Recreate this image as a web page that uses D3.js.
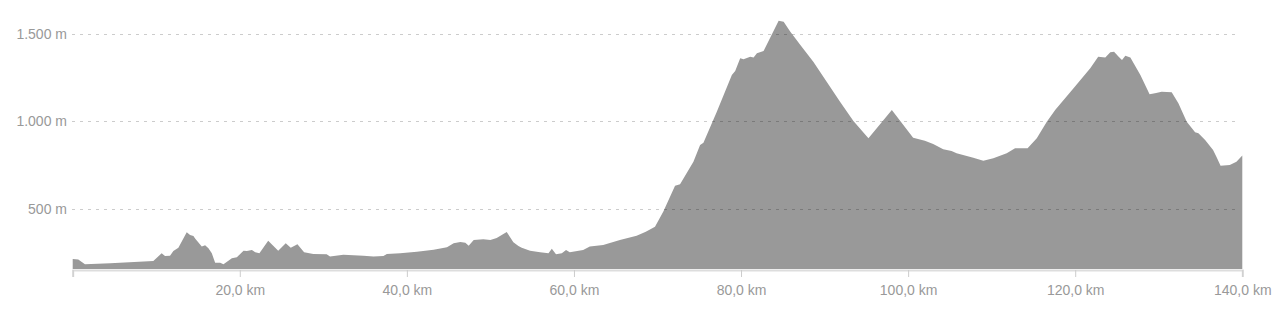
<!DOCTYPE html>
<html>
<head>
<meta charset="utf-8">
<script src="https://cdn.jsdelivr.net/npm/d3@7"></script>
<style>
  html, body { margin: 0; padding: 0; background: #fff; }
  svg { display: block; font-family: "Liberation Sans", Arial, sans-serif; }
</style>
</head>
<body>
<div id="chart"></div>
<script>
// elevation profile
const distanceKm = [
  0, 0.67, 1.47, 4.5, 9.65, 10.65, 11.05, 11.65, 12.05, 12.65, 13.65, 14.05, 14.45, 14.65,
  15.45, 15.85, 16.25, 16.65, 17.05, 17.65, 18.05, 19.05, 19.65, 20.45, 20.85, 21.45, 21.85,
  22.35, 23.4, 24.6, 25.5, 26.1, 26.9, 27.7, 28.8, 30.4, 30.8, 32.4, 34.8, 36.0, 37.2, 37.6,
  39.2, 41.2, 43.2, 44.8, 45.6, 46.4, 47.0, 47.4, 48.0, 49.15, 50.0, 50.75, 51.95, 52.75,
  53.35, 53.75, 54.75, 55.95, 56.95, 57.35, 57.85, 58.55, 59.05, 59.5, 61.1, 61.9, 63.5,
  65.5, 67.5, 68.6, 69.7, 70.7, 72.1, 72.7, 74.3, 75.1, 75.5, 77.1, 78.9, 79.3, 79.9, 80.3,
  81.1, 81.5, 81.9, 82.7, 84.5, 85.1, 85.9, 87.1, 88.65, 90.25, 91.85, 93.45, 95.25, 98.05,
  100.6, 102.0, 103.0, 104.2, 105.2, 105.8, 107.8, 109.0, 110.2, 111.8, 112.8, 113.4, 114.3,
  115.4, 116.6, 117.6, 119.8, 121.8, 122.75, 123.6, 124.2, 124.65, 125.2, 125.6, 126.0,
  126.6, 127.8, 128.9, 129.55, 130.35, 131.55, 132.35, 133.35, 134.35, 134.75, 135.55,
  136.5, 136.9, 137.4, 138.5, 139.3, 140
];
const elevationM = [
  214, 212, 184, 190, 203, 247, 231, 233, 260, 279, 367, 351, 346, 332,
  285, 293, 275, 247, 193, 193, 184, 218, 224, 262, 260, 266, 253,
  247, 319, 262, 304, 279, 298, 253, 243, 241, 228, 239, 233, 228, 231, 243,
  247, 256, 267, 281, 304, 311, 307, 290, 323, 327, 323, 334, 369, 310,
  289, 279, 262, 253, 247, 273, 241, 247, 266, 253, 266, 285, 294,
  323, 347, 370, 399, 485, 633, 641, 770, 866, 879, 1056, 1266, 1289, 1361, 1355,
  1370, 1365, 1390, 1403, 1576, 1570, 1513, 1437, 1342, 1227, 1113, 1003, 904, 1066,
  907, 890, 871, 841, 831, 818, 793, 776, 790, 818, 847, 847, 847,
  904, 999, 1066, 1190, 1304, 1370, 1365, 1395, 1399, 1370, 1351, 1376,
  1365, 1266, 1155, 1161, 1170, 1167, 1104, 999, 938, 933, 894,
  837, 799, 747, 751, 770, 805
];
const yTicks = [500, 1000, 1500];
const xTicks = [0, 20, 40, 60, 80, 100, 120, 140];

const width = 1280, height = 318;

const svg = d3.select("#chart").append("svg")
    .attr("width", width)
    .attr("height", height);

const x = d3.scaleLinear().domain([0, 140]).range([72.7, 1242.3]);
const y = d3.scaleLinear().domain([157, 1500]).range([269, 34]);

const profile = distanceKm.map((d, i) => ({km: d, m: elevationM[i]}));

const area = d3.area()
    .x(d => x(d.km))
    .y0(y(157))
    .y1(d => y(d.m));

svg.append("path")
    .datum(profile)
    .attr("fill", "#999999")
    .attr("d", area);

// dashed grid lines, drawn over the fill
svg.append("g")
    .selectAll("line")
    .data(yTicks)
    .enter().append("line")
    .attr("x1", 72)
    .attr("x2", 1240)
    .attr("y1", d => Math.round(y(d)) + 0.5)
    .attr("y2", d => Math.round(y(d)) + 0.5)
    .attr("stroke", "rgba(0,0,0,0.2)")
    .attr("stroke-dasharray", "3,5");

// y labels
svg.append("g")
    .selectAll("text")
    .data(yTicks)
    .enter().append("text")
    .attr("x", 67)
    .attr("y", d => y(d))
    .attr("dy", "0.35em")
    .attr("text-anchor", "end")
    .attr("fill", "#999")
    .style("font-size", "14px")
    .text(d => d3.format(",")(d).replace(",", ".") + " m");

// x axis
const xAxis = d3.axisBottom(x)
    .tickValues(xTicks)
    .tickSize(7)
    .tickPadding(8)
    .tickFormat(d => d === 0 ? "" : d.toFixed(1).replace(".", ",") + " km");

const gx = svg.append("g")
    .attr("transform", "translate(0,270)")
    .call(xAxis);

gx.select(".domain").attr("stroke", "#ddd").attr("stroke-width", 2);
gx.selectAll(".tick line").attr("stroke", "#ccc");
gx.selectAll(".tick text")
    .attr("fill", "#999")
    .style("font-size", "14px")
    .style("font-family", "inherit");
</script>
</body>
</html>
